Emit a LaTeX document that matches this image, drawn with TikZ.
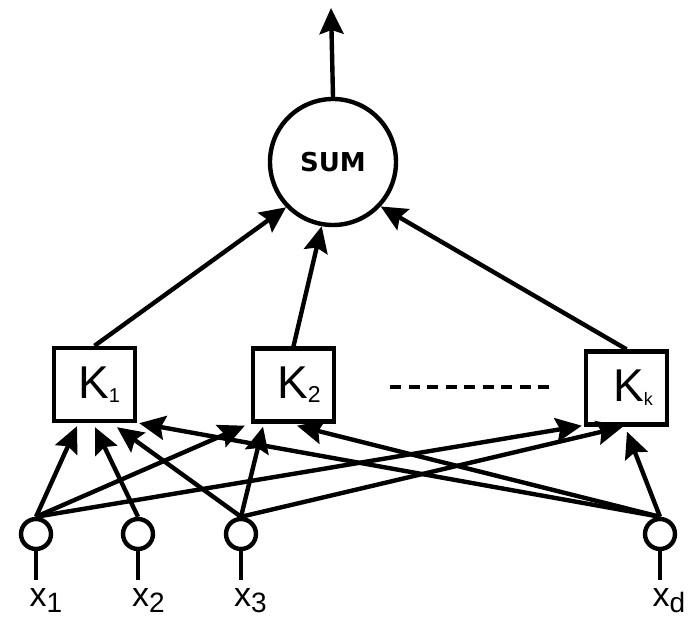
\documentclass[tikz,border=0pt]{standalone}
\usepackage{fontspec}
\setmainfont{Liberation Sans}
\newfontfamily\sumfont{DejaVu Sans}
\usetikzlibrary{arrows.meta,calc}
\tikzset{
  lw/.style={line width=4.4pt},
  arr/.style={lw,-{Stealth[length=26pt,width=24pt,inset=4pt]}},
  kbox/.style={draw,lw,minimum width=81pt,minimum height=73pt,inner sep=0pt},
  inp/.style={draw,lw,circle,minimum size=30pt,inner sep=0pt},
  sumnode/.style={draw,lw,circle,minimum size=126pt,inner sep=0pt,font=\sumfont\fontsize{26}{26}\selectfont\bfseries},
  xlab/.style={anchor=base west,inner sep=0pt,font=\fontsize{34}{34}\selectfont},
  klab/.style={inner sep=0pt,font=\fontsize{46}{46}\selectfont},
}
\newcommand{\xsub}[1]{\raisebox{-6pt}{\fontsize{28}{28}\selectfont #1}}
\newcommand{\ksub}[2]{\raisebox{-4pt}{\fontsize{#2}{#2}\selectfont #1}}
\begin{document}
\begin{tikzpicture}[x=1pt,y=-1pt]
\useasboundingbox (0,0) rectangle (688,617);
% sum
\node[sumnode] (sum) at (333,162) {SUM};
\coordinate (out) at (331,8);
% kernel boxes
\node[kbox] (K1) at (94.5,384.5) {};
\node[kbox] (K2) at (293.5,385) {};
\node[kbox] (Kk) at (626.5,388) {};
\node[klab] (k1t) at (99,385) {K\ksub{1}{20}};
\node[klab] (k2t) at (299,385) {K\ksub{2}{23}};
\node[klab] (kkt) at (633,388) {K\ksub{k}{18}};
% dashed line
\coordinate (d1) at (390,387);
\coordinate (d2) at (554,387);
\draw[lw,dash pattern=on 11pt off 7.5pt] (d1) -- (d2);
% inputs
\node[inp] (x1) at (36,534) {};
\node[inp] (x2) at (138,534) {};
\node[inp] (x3) at (241,534) {};
\node[inp] (xd) at (660,534) {};
\coordinate (s1) at (36,580);
\coordinate (s2) at (138,580);
\coordinate (s3) at (241,580);
\coordinate (sd) at (660,580);
\draw[lw] (x1.south) -- (s1);
\draw[lw] (x2.south) -- (s2);
\draw[lw] (x3.south) -- (s3);
\draw[lw] (xd.south) -- (sd);
\node[xlab] (l1) at (29.5,606) {x\xsub{1}};
\node[xlab] (l2) at (132,606) {x\xsub{2}};
\node[xlab] (l3) at (234,606) {x\xsub{3}};
\node[xlab] (ld) at (652.5,606) {x\xsub{d}};
% output
\draw[arr] (sum.north) -- (out);
% kernels to sum
\draw[arr] (K1.north) -- (sum.224);
\draw[arr] (K2.north) -- (sum.260);
\draw[arr] (Kk.north) -- (sum.317);
% inputs to kernels
\draw[arr] (x1.north) -- ($(K1.south)+(-17.5,3)$);
\draw[arr] (x2.north) -- ($(K1.south)+(0.5,4)$);
\draw[arr] (x3.north) -- ($(K1.south)+(22.5,4)$);
\draw[arr] (xd.north) -- ($(K1.south east)+(2,0)$);
\draw[arr] (x1.north) -- ($(K2.south west)+(-6,2)$);
\draw[arr] (x3.north) -- ($(K2.south)+(-30.5,3)$);
\draw[arr] (xd.north) -- ($(K2.south)+(3.5,2)$);
\draw[arr] (x1.north) -- ($(Kk.south west)+(-2,-1)$);
\draw[arr] (x3.north) -- ($(Kk.south)+(-3.5,0)$);
\draw[arr] (xd.north) -- ($(Kk.south)+(0.5,5)$);
\end{tikzpicture}
\end{document}
